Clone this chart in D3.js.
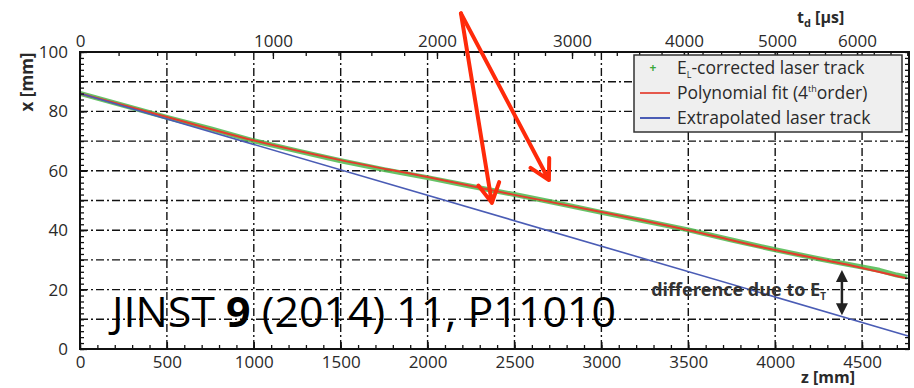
<!DOCTYPE html>
<html>
<head>
<meta charset="utf-8">
<script src="https://cdn.jsdelivr.net/npm/d3@7"></script>
<style>
  body { margin: 0; background: #fff; }
  svg { display: block; font-family: "Open Sans", sans-serif; }
</style>
</head>
<body>
<svg id="chart" width="914" height="388"></svg>
<script>
// data (z in mm, x in mm)
const zGreen = [0, 250, 500, 750, 1000, 1250, 1500, 1750, 2000, 2250, 2500, 2750, 3000, 3250, 3500, 3750, 4000, 4250, 4400, 4500, 4600, 4700, 4760]
const xGreen = [86.1, 82.0, 78.0, 74.2, 70.1, 66.7, 63.4, 60.4, 57.7, 54.8, 52.0, 49.1, 46.0, 43.1, 40.1, 36.7, 33.4, 30.4, 28.7, 27.6, 26.5, 24.9, 24.2]
const zRed = [0, 500, 1000, 1500, 2000, 2500, 3000, 3500, 4000, 4500, 4750]
const xRed = [86.0, 78.1, 70.2, 63.6, 57.9, 51.9, 46.1, 40.0, 33.3, 27.3, 23.9]
const zBlue = [0, 4770]
const xBlue = [86.0, 4.3]

// top axis: drift time t_d [us] against z position
const tdTicks = [0, 1000, 2000, 3000, 4000, 5000, 6000, 6600]
const tdZ = [0, 1110, 2054, 2831, 3475, 4010, 4471, 4760]

const zTicks = [0, 500, 1000, 1500, 2000, 2500, 3000, 3500, 4000, 4500]
const xTicks = [0, 20, 40, 60, 80, 100]

// annotation arrows (data coords)
const arrowApex = [2192, 113]
const arrowTips = [[2370, 49.2], [2698, 56.9]]
const diffArrow = [4384, 26.6, 11.4]

var svg = d3.select("#chart")
var pL = 80, pR = 909, pT = 52, pB = 349

var x = d3.scaleLinear().domain([0, 4770]).range([pL, pR])
var y = d3.scaleLinear().domain([0, 100]).range([pB, pT])
var td = d3.scaleLinear().domain(tdTicks).range(tdZ.map(x))

// grid
var grid = svg.append("g").attr("stroke", "#111").attr("stroke-width", 1.4)
    .attr("stroke-dasharray", "8,3,2,3")
d3.range(10, 100, 10).forEach(function (v) {
    grid.append("line").attr("x1", pL).attr("x2", pR).attr("y1", y(v)).attr("y2", y(v))
})
d3.range(500, 4501, 500).forEach(function (v) {
    grid.append("line").attr("x1", x(v)).attr("x2", x(v)).attr("y1", pT).attr("y2", pB)
})

// series
var line = d3.line().x(d => x(d[0])).y(d => y(d[1]))
svg.append("path")
    .attr("d", line(zGreen.map((z, i) => [z, xGreen[i]])))
    .attr("fill", "none").attr("stroke", "#4cb84c").attr("stroke-width", 5)
    .attr("stroke-linejoin", "round").attr("opacity", 0.85)
svg.append("path")
    .attr("d", d3.line().x(d => x(d[0])).y(d => y(d[1])).curve(d3.curveMonotoneX)(zRed.map((z, i) => [z, xRed[i]])))
    .attr("fill", "none").attr("stroke", "#e53b2c").attr("stroke-width", 2)
svg.append("path")
    .attr("d", line(zBlue.map((z, i) => [z, xBlue[i]])))
    .attr("fill", "none").attr("stroke", "#4a5cb5").attr("stroke-width", 1.6)

// axes
function styleAxis(g) {
    g.select(".domain").remove()
    g.selectAll(".tick line").attr("stroke", "#111").attr("stroke-width", 1.3)
    g.selectAll("text").attr("fill", "#2a2a2a").style("font-size", "17px").style("font-family", "Open Sans")
}
svg.append("g").attr("transform", `translate(${pL},0)`)
    .call(d3.axisLeft(y).tickValues(d3.range(0, 101, 2)).tickSize(-4).tickFormat(""))
    .call(styleAxis)
svg.append("g").attr("transform", `translate(${pL},0)`)
    .call(d3.axisLeft(y).tickValues(xTicks).tickSize(-7).tickPadding(12).tickFormat(d3.format("d")))
    .call(styleAxis)
svg.append("g").attr("transform", `translate(${pR},0)`)
    .call(d3.axisRight(y).tickValues(d3.range(0, 101, 2)).tickSize(-4).tickFormat(""))
    .call(styleAxis)
svg.append("g").attr("transform", `translate(0,${pB})`)
    .call(d3.axisBottom(x).tickValues(d3.range(0, 4771, 100)).tickSize(-4).tickFormat(""))
    .call(styleAxis)
svg.append("g").attr("transform", `translate(0,${pB})`)
    .call(d3.axisBottom(x).tickValues(zTicks).tickSize(-7).tickPadding(7).tickFormat(d3.format("d")))
    .call(styleAxis)
svg.append("g").attr("transform", `translate(0,${pT})`)
    .call(d3.axisTop(td).tickValues(d3.range(0, 6601, 200)).tickSize(-4).tickFormat(""))
    .call(styleAxis)
svg.append("g").attr("transform", `translate(0,${pT})`)
    .call(d3.axisTop(td).tickValues(tdTicks.slice(0, 7)).tickSize(-7).tickPadding(5).tickFormat(d3.format("d")))
    .call(styleAxis)

// frame
svg.append("rect").attr("x", pL).attr("y", pT).attr("width", pR - pL).attr("height", pB - pT)
    .attr("fill", "none").attr("stroke", "#111").attr("stroke-width", 2)

// axis titles
svg.append("text").attr("transform", "translate(33,82) rotate(-90)").attr("text-anchor", "middle")
    .attr("font-weight", "bold").attr("font-size", 17).attr("fill", "#2a2a2a").text("x [mm]")
svg.append("text").attr("x", 828).attr("y", 383).attr("text-anchor", "middle")
    .attr("font-weight", "bold").attr("font-size", 16).attr("fill", "#2a2a2a").text("z [mm]")
var tdt = svg.append("text").attr("x", 797).attr("y", 23)
    .attr("font-weight", "bold").attr("font-size", 16).attr("fill", "#2a2a2a")
tdt.append("tspan").text("t")
tdt.append("tspan").attr("dy", 4).attr("font-size", 11).text("d")
tdt.append("tspan").attr("dy", -4).text(" [\u00b5s]")

// legend
var lg = svg.append("g")
lg.append("rect").attr("x", 634).attr("y", 55).attr("width", 268).attr("height", 77)
    .attr("fill", "#efefef").attr("stroke", "#333").attr("stroke-width", 1.5)
lg.append("text").attr("x", 653).attr("y", 68).attr("text-anchor", "middle").attr("dy", "0.35em")
    .attr("fill", "#3aa83a").attr("font-size", 12).attr("font-weight", "bold").text("+")
lg.append("line").attr("x1", 640).attr("x2", 670).attr("y1", 93).attr("y2", 93).attr("stroke", "#e5584c").attr("stroke-width", 2)
lg.append("line").attr("x1", 640).attr("x2", 670).attr("y1", 118).attr("y2", 118).attr("stroke", "#4a5cb5").attr("stroke-width", 2)
var t1 = lg.append("text").attr("x", 677).attr("y", 74).attr("font-size", 17.5).attr("fill", "#2a2a2a")
t1.append("tspan").text("E")
t1.append("tspan").attr("dy", 4).attr("font-size", 9).text("L")
t1.append("tspan").attr("dy", -4).text("-corrected laser track")
var t2 = lg.append("text").attr("x", 677).attr("y", 99).attr("font-size", 17.5).attr("fill", "#2a2a2a")
t2.append("tspan").text("Polynomial fit (4")
t2.append("tspan").attr("dy", -7).attr("font-size", 9).text("th")
t2.append("tspan").attr("dy", 7).text("order)")
lg.append("text").attr("x", 677).attr("y", 124).attr("font-size", 17.5).attr("fill", "#2a2a2a")
    .text("Extrapolated laser track")

// difference annotation
var dt = svg.append("text").attr("x", x(4292)).attr("y", 296).attr("text-anchor", "end")
    .attr("font-size", 18).attr("font-weight", "bold").attr("fill", "#333")
dt.append("tspan").text("difference due to E")
dt.append("tspan").attr("dy", 4).attr("font-size", 10).text("T")
var dx = x(diffArrow[0]), dy1 = y(diffArrow[1]), dy2 = y(diffArrow[2])
svg.append("line").attr("x1", dx).attr("x2", dx).attr("y1", dy1 + 8).attr("y2", dy2 - 8)
    .attr("stroke", "#222").attr("stroke-width", 2.5)
svg.append("path").attr("d", `M${dx},${dy1}L${dx - 6},${dy1 + 12}L${dx + 6},${dy1 + 12}Z`).attr("fill", "#222")
svg.append("path").attr("d", `M${dx},${dy2}L${dx - 6},${dy2 - 12}L${dx + 6},${dy2 - 12}Z`).attr("fill", "#222")

// citation
var cite = svg.append("text").attr("x", 112).attr("y", 327).attr("font-size", 42).attr("fill", "#000")
    .attr("textLength", 504).attr("lengthAdjust", "spacingAndGlyphs")
cite.append("tspan").text("JINST ")
cite.append("tspan").attr("font-weight", "bold").text("9")
cite.append("tspan").text(" (2014) 11, P11010")

// red arrows
var ax = x(arrowApex[0]), ay = y(arrowApex[1])
arrowTips.forEach(function (t) {
    var tx = x(t[0]), ty = y(t[1])
    var ang = Math.atan2(ty - ay, tx - ax)
    var hl = 22, spread = 0.5
    svg.append("path")
        .attr("d", `M${ax},${ay}L${tx},${ty}M${tx - hl * Math.cos(ang - spread)},${ty - hl * Math.sin(ang - spread)}L${tx},${ty}L${tx - hl * Math.cos(ang + spread)},${ty - hl * Math.sin(ang + spread)}`)
        .attr("fill", "none").attr("stroke", "#ff2a0a").attr("stroke-width", 4)
        .attr("stroke-linecap", "round").attr("stroke-linejoin", "round")
})
</script>
</body>
</html>
